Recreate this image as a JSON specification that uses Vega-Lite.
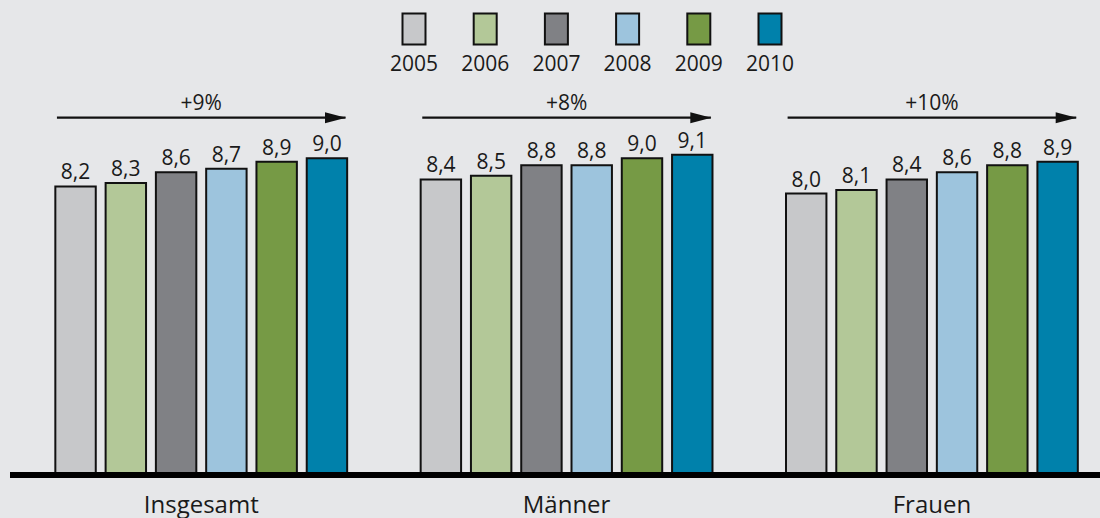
{
  "$schema": "https://vega.github.io/schema/vega-lite/v6.json",
  "width": 1090,
  "height": 476,
  "autosize": {"type": "none"},
  "padding": {"left": 10, "top": 0, "right": 0, "bottom": 42},
  "background": "#e6e7e9",
  "config": {
    "view": {"stroke": null},
    "font": "Open Sans",
    "locale": {"number": {"decimal": ",", "thousands": ".", "grouping": [3], "currency": ["", " €"]}}
  },
  "datasets": {
    "bars": [
      {"group": "Insgesamt", "year": "2005", "value": 8.2},
      {"group": "Insgesamt", "year": "2006", "value": 8.3},
      {"group": "Insgesamt", "year": "2007", "value": 8.6},
      {"group": "Insgesamt", "year": "2008", "value": 8.7},
      {"group": "Insgesamt", "year": "2009", "value": 8.9},
      {"group": "Insgesamt", "year": "2010", "value": 9.0},
      {"group": "Männer", "year": "2005", "value": 8.4},
      {"group": "Männer", "year": "2006", "value": 8.5},
      {"group": "Männer", "year": "2007", "value": 8.8},
      {"group": "Männer", "year": "2008", "value": 8.8},
      {"group": "Männer", "year": "2009", "value": 9.0},
      {"group": "Männer", "year": "2010", "value": 9.1},
      {"group": "Frauen", "year": "2005", "value": 8.0},
      {"group": "Frauen", "year": "2006", "value": 8.1},
      {"group": "Frauen", "year": "2007", "value": 8.4},
      {"group": "Frauen", "year": "2008", "value": 8.6},
      {"group": "Frauen", "year": "2009", "value": 8.8},
      {"group": "Frauen", "year": "2010", "value": 8.9}
    ],
    "changes": [
      {"group": "Insgesamt", "change": "+9%"},
      {"group": "Männer", "change": "+8%"},
      {"group": "Frauen", "change": "+10%"}
    ],
    "legend": [
      {"year": "2005"}, {"year": "2006"}, {"year": "2007"},
      {"year": "2008"}, {"year": "2009"}, {"year": "2010"}
    ]
  },
  "resolve": {"scale": {"x": "independent"}},
  "layer": [
    {
      "layer": [
        {
          "data": {"name": "bars"},
          "mark": {"type": "bar", "stroke": "#111111", "strokeWidth": 2},
          "encoding": {
            "x": {"field": "group", "type": "nominal", "sort": ["Insgesamt", "Männer", "Frauen"],
              "scale": {"range": [8.58, 1104.58], "paddingInner": 0, "paddingOuter": 0, "round": false},
              "axis": {"title": null, "domain": false, "ticks": false, "tickSize": 0, "labelPadding": 36, "labelBaseline": "alphabetic", "labelFontSize": 24, "labelColor": "#1a1a1a", "labelAngle": 0, "labelFont": "Open Sans"}},
            "xOffset": {"field": "year", "type": "nominal", "scale": {"paddingInner": 0.196, "paddingOuter": 0.731, "round": false}},
            "y": {"field": "value", "type": "quantitative", "scale": {"domain": [0, 13.48], "nice": false, "zero": true}, "axis": null},
            "color": {"field": "year", "type": "nominal",
              "scale": {"domain": ["2005", "2006", "2007", "2008", "2009", "2010"],
                "range": ["#c7c8ca", "#b3c898", "#808185", "#9dc4dd", "#769a45", "#0081ab"]},
              "legend": null}
          }
        },
        {
          "data": {"name": "bars"},
          "mark": {"type": "text", "baseline": "alphabetic", "dy": -7, "fontSize": 21, "color": "#1a1a1a"},
          "encoding": {
            "x": {"field": "group", "type": "nominal", "sort": ["Insgesamt", "Männer", "Frauen"]},
            "xOffset": {"field": "year", "type": "nominal"},
            "y": {"field": "value", "type": "quantitative"},
            "text": {"field": "value", "type": "quantitative", "format": ".1f"}
          }
        },
        {
          "data": {"name": "changes"},
          "mark": {"type": "bar", "width": {"band": 0.79}, "color": "#111111"},
          "encoding": {
            "x": {"field": "group", "type": "nominal", "sort": ["Insgesamt", "Männer", "Frauen"]},
            "y": {"datum": 10.178},
            "y2": {"datum": 10.118}
          }
        },
        {
          "data": {"name": "changes"},
          "mark": {"type": "point", "filled": true, "shape": "M0,0L-2,-0.52L-2,0.52Z", "size": 441, "color": "#111111", "opacity": 1, "strokeWidth": 0},
          "encoding": {
            "x": {"field": "group", "type": "nominal", "sort": ["Insgesamt", "Männer", "Frauen"], "bandPosition": 0.8962},
            "y": {"datum": 10.147}
          }
        },
        {
          "data": {"name": "changes"},
          "mark": {"type": "text", "baseline": "alphabetic", "fontSize": 21, "color": "#1a1a1a"},
          "encoding": {
            "x": {"field": "group", "type": "nominal", "sort": ["Insgesamt", "Männer", "Frauen"]},
            "y": {"datum": 10.37},
            "text": {"field": "change", "type": "nominal"}
          }
        },
        {
          "data": {"values": [{}]},
          "mark": {"type": "rule", "color": "#000000", "strokeWidth": 6},
          "encoding": {"y": {"datum": 0.03}}
        }
      ]
    },
    {
      "data": {"name": "legend"},
      "layer": [
        {
          "mark": {"type": "bar", "stroke": "#111111", "strokeWidth": 2},
          "encoding": {
            "x": {"field": "year", "type": "nominal", "scale": {"range": [392.5, 771.5], "paddingInner": 0.677, "paddingOuter": 0, "round": false}, "axis": null},
            "y": {"datum": 13.10},
            "y2": {"datum": 12.22},
            "color": {"field": "year", "type": "nominal", "legend": null}
          }
        },
        {
          "mark": {"type": "text", "baseline": "alphabetic", "fontSize": 21, "color": "#1a1a1a"},
          "encoding": {
            "x": {"field": "year", "type": "nominal"},
            "y": {"datum": 11.46},
            "text": {"field": "year", "type": "nominal"}
          }
        }
      ]
    }
  ]
}
